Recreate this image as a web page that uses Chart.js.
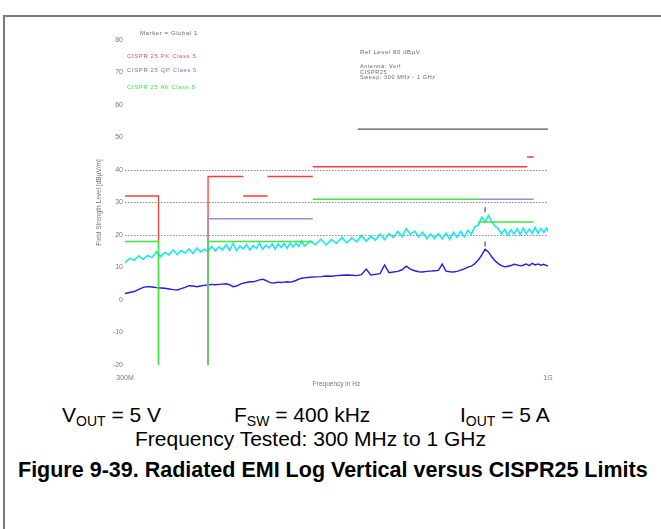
<!DOCTYPE html>
<html>
<head>
<meta charset="utf-8">
<script src="https://cdn.jsdelivr.net/npm/chart.js@4.4.1/dist/chart.umd.min.js"></script>
<style>
  body { margin: 0; background: #fff; }
  #page { position: relative; width: 661px; height: 529px; overflow: hidden; font-family: "Liberation Sans", Arial, sans-serif; }
  #frame { position: absolute; left: 3px; top: 15px; width: 700px; height: 600px; border-top: 2px solid #7a7a7a; border-left: 2px solid #7a7a7a; }
  #plot { position: absolute; left: 0; top: 0; }
  .tiny { position: absolute; font-size: 6px; line-height: 6px; white-space: nowrap; letter-spacing: 0.6px; }
  .cap { position: absolute; font-size: 21px; line-height: 21px; white-space: nowrap; color: #000; }
  .cap sub { font-size: 14px; line-height: 0; vertical-align: -4px; }
</style>
</head>
<body>
<div id="page">
  <div id="frame"></div>
  <canvas id="plot" width="661" height="390"></canvas>

  <div class="tiny" style="left:140px;top:30px;color:#666">Marker = Global 1</div>
  <div class="tiny" style="left:127px;top:53px;color:#ff4a4a">CISPR 25 PK Class 5</div>
  <div class="tiny" style="left:127px;top:67px;color:#8a6cc8">CISPR 25 QP Class 5</div>
  <div class="tiny" style="left:127px;top:84px;color:#44e044">CISPR 25 AV Class 5</div>

  <div class="tiny" style="left:360px;top:49px;color:#666">Ref Level 80 dBµV</div>
  <div class="tiny" style="left:360px;top:64px;color:#666;font-size:5.5px;line-height:5.5px">Antenna: Vert<br>CISPR25<br>Sweep: 300 MHz - 1 GHz</div>

  <div class="cap" style="left:62px;top:404px">V<sub>OUT</sub> = 5 V</div>
  <div class="cap" style="left:234px;top:404px">F<sub>SW</sub> = 400 kHz</div>
  <div class="cap" style="left:460px;top:404px">I<sub>OUT</sub> = 5 A</div>
  <div class="cap" style="left:135px;top:428px">Frequency Tested: 300 MHz to 1 GHz</div>
  <div class="cap" style="left:18px;top:460px;font-weight:bold;font-size:21.5px">Figure 9-39. Radiated EMI Log Vertical versus CISPR25 Limits</div>
</div>

<script>
'use strict';

// sweep frequencies (MHz)
const sweepFreq = [
    300, 304, 308, 312, 316, 320, 324, 328, 332, 336, 340, 344, 348, 352, 356, 360, 364, 368, 372, 376,
    380, 384, 388, 392, 396, 400, 404, 408, 412, 416, 420, 424, 428, 432, 436, 440, 444, 448, 452, 456,
    460, 464, 468, 472, 476, 480, 484, 488, 492, 496, 500,
    508, 516, 524, 532, 540, 548, 556, 564, 572, 580, 588, 596, 604, 612, 620, 628, 636, 644, 652, 660,
    668, 676, 684, 692, 700, 708, 716, 724, 732, 740, 748, 756, 764, 772, 780, 788, 796, 804, 812, 820,
    828, 836, 844, 852, 860, 868, 876, 884, 892, 900, 908, 916, 924, 932, 940, 948, 956, 964, 972, 980,
    988, 996, 1000
];

// peak detector trace (dBuV/m)
const peakLevel = [
    11.5, 12.8, 12.2, 13.6, 12.5, 13.7, 13.1, 14.8, 13.4, 14.6, 13.9, 15.4, 14.0, 15.2, 14.4, 15.7, 14.3, 16.0, 14.8, 15.6,
    14.9, 16.5, 15.1, 16.3, 15.4, 17.0, 15.3, 17.4, 15.2, 16.6, 15.7, 17.1, 15.4, 16.8, 15.9, 17.5, 15.6, 16.9, 16.0, 17.3,
    15.7, 17.3, 16.1, 17.4, 15.9, 17.6, 16.3, 17.5, 16.5, 18.2, 16.6,
    18.1, 17.0, 18.7, 17.0, 18.6, 17.4, 19.2, 17.6, 19.1, 17.9, 19.8, 18.1, 19.6, 18.4, 20.3, 18.6, 20.4, 19.2, 21.1, 19.5,
    22.0, 20.2, 21.2, 19.5, 20.9, 18.9, 20.3, 18.9, 20.4, 18.8, 20.6, 18.6, 20.8, 19.3, 21.1, 19.5, 21.4, 20.3, 22.6, 23.0,
    25.5, 24.1, 26.0, 24.2, 22.7, 22.0, 20.3, 21.7, 19.9, 21.6, 20.3, 21.9, 20.2, 22.1, 20.4, 21.8, 20.5, 22.3, 20.5, 22.0,
    20.8, 22.1, 21.0
];

// average detector trace (dBuV/m)
const avgLevel = [
    2.0, 2.3, 2.6, 3.3, 3.9, 4.1, 4.0, 3.8, 3.7, 3.6, 3.4, 3.2, 3.1, 3.5, 3.9, 4.4, 4.3, 4.1, 4.3, 4.5,
    4.6, 4.8, 4.7, 4.8, 4.9, 5.0, 4.7, 4.1, 4.3, 4.8, 5.2, 5.4, 5.6, 5.6, 5.9, 6.2, 6.4, 6.0, 5.5, 5.2,
    5.3, 5.5, 5.4, 5.5, 5.6, 5.5, 5.7, 6.0, 6.4, 6.7, 6.8,
    7.0, 7.1, 7.2, 7.4, 7.3, 7.5, 7.6, 7.7, 7.6, 7.5, 7.8, 9.5, 7.7, 7.9, 8.1, 10.8, 8.4, 8.6, 8.8, 9.3,
    10.4, 9.5, 9.0, 8.7, 8.6, 8.8, 8.9, 9.0, 9.1, 11.0, 8.9, 8.7, 8.6, 8.8, 9.2, 9.6, 10.1, 10.4, 11.2, 12.3,
    13.8, 15.6, 14.8, 13.3, 12.1, 11.2, 10.6, 10.2, 10.4, 10.6, 11.0, 10.8, 10.5, 10.7, 11.1, 10.6, 11.3, 10.8, 11.1, 10.7,
    11.0, 10.6, 10.5
];

// CISPR 25 limit lines, null = gap between bands
const peakLimitFreq  = [300, 330, 330, 355, 380, 380, 420, 420, 420, 450, 450, 450, 512, 512, 512, 942, 942, 942, 960];
const peakLimitLevel = [32, 32, -20, null, -20, 38, 38, null, 32, 32, null, 38, 38, null, 41, 41, null, 44, 44];
const qpLimitFreq    = [380, 380, 512, 700, 820, 960];
const qpLimitLevel   = [-20, 25, 25, null, 31, 31];
const avgLimitFreq   = [300, 330, 330, 355, 380, 380, 512, 512, 512, 820, 820, 820, 960];
const avgLimitLevel  = [18, 18, -20, null, -20, 18, 18, null, 31, 31, null, 24, 24];

const headerFreq  = [582, 1000];
const headerLevel = [52.6, 52.6];
const markerFreq  = [836, 836];
const markerLevel = [27.8, 17.2];

const xTickValues = [300, 1000];
const xTickLabels = ['300M', '1G'];
const yTickValues = [-20, -10, 0, 10, 20, 30, 40, 50, 60, 70, 80];
const dottedGrid  = [20, 30, 40];

function _points(xs, ys) {
    return xs.map(function (x, i) { return {x: x, y: ys[i]}; });
}

const tickFont = {family: 'Liberation Sans', size: 7};
const titleFont = {family: 'Liberation Sans', size: 6.5};

new Chart(document.getElementById('plot').getContext('2d'), {
    type: 'line',
    data: {
        datasets: [
            {label: 'AV limit', data: _points(avgLimitFreq, avgLimitLevel), borderColor: '#3fe83f', borderWidth: 1.3},
            {label: 'QP limit', data: _points(qpLimitFreq, qpLimitLevel), borderColor: '#a58ccf', borderWidth: 1.3},
            {label: 'PK limit', data: _points(peakLimitFreq, peakLimitLevel), borderColor: '#ff3a3a', borderWidth: 1.3},
            {label: 'Markers', data: _points(markerFreq, markerLevel), showLine: false, pointStyle: 'line',
                pointRadius: 2.5, pointRotation: 90, borderColor: '#333', borderWidth: 1},
            {label: 'Average', data: _points(sweepFreq, avgLevel), borderColor: '#1f1fe6', borderWidth: 1.4},
            {label: 'Peak', data: _points(sweepFreq, peakLevel), borderColor: '#22e8ee', borderWidth: 1.7},
            {label: 'Header', data: _points(headerFreq, headerLevel), borderColor: '#555', borderWidth: 1.3}
        ]
    },
    options: {
        responsive: false,
        animation: false,
        events: [],
        spanGaps: false,
        layout: {autoPadding: false, padding: {left: 92, right: 113, top: 40, bottom: 0}},
        elements: {point: {radius: 0}, line: {tension: 0}},
        plugins: {legend: {display: false}, tooltip: {enabled: false}},
        scales: {
            x: {
                type: 'logarithmic',
                min: 300,
                max: 1000,
                afterBuildTicks: function (scale) {
                    scale.ticks = xTickValues.map(function (v) { return {value: v}; });
                },
                afterFit: function (scale) {
                    scale.height = 25;
                    scale.paddingLeft = 0;
                    scale.paddingRight = 0;
                },
                ticks: {
                    autoSkip: false,
                    maxRotation: 0,
                    padding: 1,
                    color: '#777',
                    font: tickFont,
                    callback: function (v, i) { return xTickLabels[i]; }
                },
                grid: {display: false},
                border: {display: false},
                title: {display: true, text: 'Frequency in Hz', color: '#777', font: titleFont, padding: 2}
            },
            y: {
                min: -20,
                max: 80,
                afterBuildTicks: function (scale) {
                    scale.ticks = yTickValues.map(function (v) { return {value: v}; });
                },
                afterFit: function (scale) {
                    scale.width = 33;
                    scale.paddingTop = 0;
                    scale.paddingBottom = 0;
                },
                ticks: {padding: 2, color: '#777', font: tickFont},
                grid: {
                    drawTicks: false,
                    lineWidth: 1,
                    color: function (ctx) {
                        return ctx.tick && dottedGrid.includes(ctx.tick.value) ? '#8c8c8c' : 'rgba(0,0,0,0)';
                    }
                },
                border: {display: false, dash: [1.5, 1.5]},
                title: {display: true, text: 'Field Strength Level [dBµV/m]', color: '#777', font: titleFont, padding: 3}
            }
        }
    }
});
</script>
</body>
</html>
